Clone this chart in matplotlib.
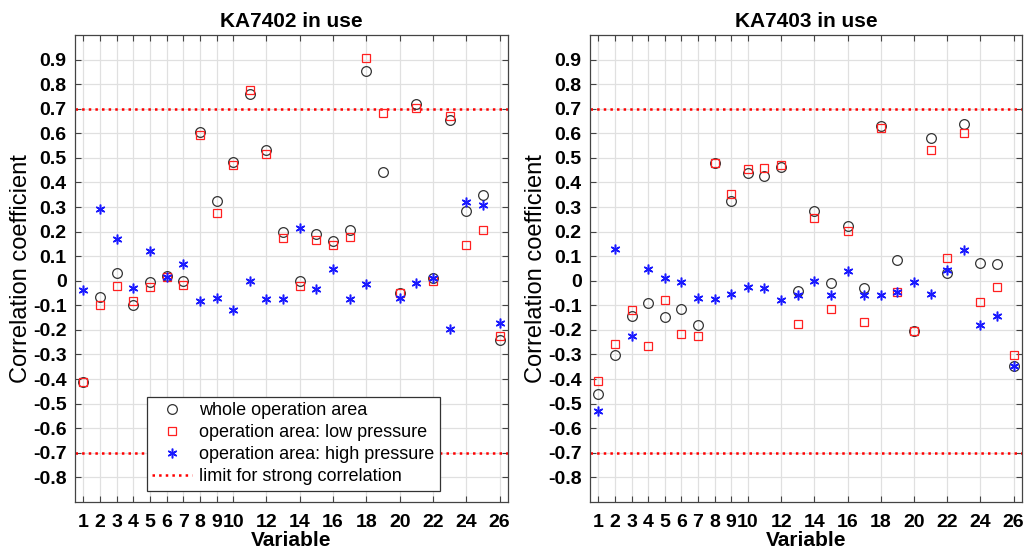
"""Correlation coefficients per variable for two pressure sensors."""

import numpy as np
import matplotlib

matplotlib.use("Agg")
import matplotlib.pyplot as plt

plt.rcParams["font.family"] = ["Liberation Sans", "DejaVu Sans"]

variables = np.arange(1, 27)
xtick_values = list(range(1, 11)) + list(range(12, 27, 2))

titles = ["KA7402 in use", "KA7403 in use"]
labels = [
    "whole operation area",
    "operation area: low pressure",
    "operation area: high pressure",
    "limit for strong correlation",
]
strong_limit = 0.7

# KA7402
whole_7402 = [-0.41, -0.065, 0.03, -0.097, -0.005, 0.018, 0.0, 0.607, 0.325, 0.483,
              0.758, 0.533, 0.2, -0.003, 0.19, 0.163, 0.205, 0.854, 0.444, -0.05,
              0.718, 0.013, 0.655, 0.283, 0.347, -0.243]
low_7402 = [-0.41, -0.1, -0.02, -0.084, -0.027, 0.016, -0.016, 0.594, 0.275, 0.471,
            0.776, 0.514, 0.175, -0.023, 0.167, 0.147, 0.178, 0.908, 0.684, -0.05,
            0.703, -0.002, 0.671, 0.146, 0.208, -0.223]
high_7402 = [-0.038, 0.29, 0.169, -0.029, 0.122, 0.016, 0.07, -0.081, -0.072, -0.121,
             0.0, -0.074, -0.074, 0.213, -0.035, 0.048, -0.074, -0.012, np.nan, -0.07,
             -0.008, 0.013, -0.198, 0.321, 0.309, -0.171]

# KA7403
whole_7403 = [-0.46, -0.304, -0.142, -0.092, -0.146, -0.115, -0.179, 0.479, 0.323, 0.437,
              0.426, 0.463, -0.042, 0.283, -0.011, 0.221, -0.028, 0.628, 0.086, -0.205,
              0.579, 0.031, 0.637, 0.073, 0.069, -0.347]
low_7403 = [-0.409, -0.256, -0.119, -0.265, -0.077, -0.216, -0.223, 0.479, 0.351, 0.456,
            0.46, 0.472, -0.178, 0.256, -0.115, 0.201, -0.169, 0.621, -0.046, -0.205,
            0.53, 0.093, 0.602, -0.085, -0.024, -0.302]
high_7403 = [-0.528, 0.131, -0.225, 0.047, 0.013, -0.007, -0.072, -0.074, -0.054, -0.027,
             -0.03, -0.078, -0.06, 0.0, -0.057, 0.038, -0.059, -0.059, -0.047, -0.007,
             -0.054, 0.042, 0.126, -0.179, -0.142, -0.347]

panels = [
    (whole_7402, low_7402, high_7402),
    (whole_7403, low_7403, high_7403),
]

fig = plt.figure(figsize=(10.27, 5.58), dpi=100)
axes = [
    fig.add_axes([0.073, 0.1004, 0.4216, 0.837]),
    fig.add_axes([0.5745, 0.1004, 0.4206, 0.837]),
]

asterisk = (6, 2, 0)

for i, (ax, (whole, low, high)) in enumerate(zip(axes, panels)):
    ax.plot(variables, whole, "o", mfc="none", mec="#333333", ms=7, mew=0.9,
            label=labels[0], zorder=3)
    ax.plot(variables, low, "s", mfc="none", mec="#ff2020", ms=5.5, mew=0.9,
            label=labels[1], zorder=3)
    ax.plot(variables, high, marker=asterisk, ls="none", color="#1a1aff", mec="#1a1aff",
            ms=7, mew=1.1, label=labels[2], zorder=4)
    ax.axhline(strong_limit, color="red", ls=":", lw=1.8, label=labels[3], zorder=2)
    ax.axhline(-strong_limit, color="red", ls=":", lw=1.8, zorder=2)

    ax.set_xlim(0.5, 26.5)
    ax.set_ylim(-0.9, 1.0)
    ax.set_xticks(xtick_values)
    ax.set_xticklabels([str(v) for v in xtick_values], fontsize=14, fontweight="bold")
    yt = np.round(np.arange(-0.8, 0.91, 0.1), 1)
    ax.set_yticks(yt)
    ax.set_yticklabels(["0" if abs(v) < 1e-9 else f"{v:.1f}" for v in yt],
                       fontsize=14, fontweight="bold")
    ax.tick_params(direction="in", top=True, right=True, length=4, width=0.8,
                   color="#444444")
    ax.tick_params(axis="x", pad=9)
    ax.tick_params(axis="y", pad=6)
    ax.grid(True, color="#e0e0e0", lw=0.9)
    ax.set_axisbelow(True)
    for s in ax.spines.values():
        s.set_color("#444444")
        s.set_linewidth(0.9)
    ax.set_title(titles[i], fontsize=15, fontweight="bold", pad=6)
    ax.set_xlabel("Variable", fontsize=15, fontweight="bold", labelpad=0)
    ax.set_ylabel("Correlation coefficient", fontsize=17, labelpad=1)

leg = axes[0].legend(loc="lower left", bbox_to_anchor=(0.166, 0.024), borderaxespad=0,
                     fontsize=13, fancybox=False, framealpha=1, edgecolor="#333333",
                     handlelength=2.2, handletextpad=0.4, borderpad=0.3, labelspacing=0.28)
leg.get_frame().set_linewidth(0.9)

fig.savefig("out.png", dpi=100)
plt.close(fig)
